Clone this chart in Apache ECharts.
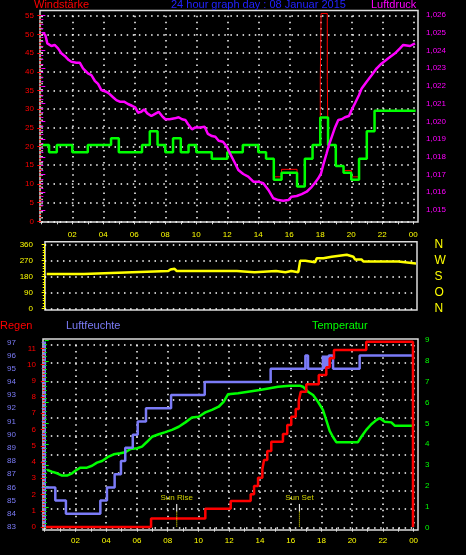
<!DOCTYPE html>
<html><head><meta charset="utf-8">
<script src="https://cdn.jsdelivr.net/npm/echarts@6/dist/echarts.min.js"></script>
<style>html,body{margin:0;padding:0;background:#000;}#c{width:466px;height:555px;}</style>
</head><body><div id="c"></div>
<script>
// ---------- DATA ----------
// Top panel: wind (km/h), gusts, pressure (hPa) vs hour of day
const windTimes  = [0.1, 0.5, 1.0, 2.0, 3.0, 4.5, 5.0, 6.5, 7.0, 7.5, 8.0, 8.5, 9.0, 9.5, 10.0, 11.0, 12.0, 13.0, 14.0, 14.5, 15.0, 15.5, 16.5, 17.0, 17.5, 18.0, 18.5, 19.0, 19.5, 20.0, 20.5, 21.0, 21.5, 24.15];
const windValues = [20.4, 18.5, 20.4, 18.5, 20.4, 22.2, 18.5, 20.4, 24.1, 20.4, 18.5, 22.2, 18.5, 20.4, 18.5, 16.7, 18.5, 20.4, 18.5, 16.7, 11.1, 13.0, 9.3, 16.7, 20.4, 27.8, 20.4, 14.8, 13.0, 11.1, 16.7, 24.1, 29.6, 29.6];
const gustTimes  = [0.1, 0.5, 1.0, 2.0, 3.0, 4.5, 5.0, 6.5, 7.0, 7.5, 8.0, 8.5, 9.0, 9.5, 10.0, 11.0, 12.0, 13.0, 14.0, 14.5, 15.0, 15.5, 16.5, 17.0, 17.5, 18.0, 18.05, 18.45, 18.5, 19.0, 19.5, 20.0, 20.5, 21.0, 21.5, 24.15];
const gustValues = [20.4, 18.5, 20.4, 18.5, 20.4, 22.2, 18.5, 20.4, 24.1, 20.4, 18.5, 22.2, 18.5, 20.4, 18.5, 16.7, 18.5, 20.4, 18.5, 16.7, 11.9, 13.9, 9.3, 16.7, 20.4, 38.0, 55.6, 38.0, 20.4, 14.8, 13.6, 11.9, 16.7, 24.1, 29.6, 29.6];
const pressTimes  = [0.11, 0.26, 0.39, 0.65, 0.86, 1.08, 1.29, 1.51, 1.77, 1.94, 2.26, 2.48, 2.69, 3.01, 3.23, 3.45, 3.66, 3.87, 4.19, 4.41, 4.63, 4.84, 5.06, 5.34, 5.59, 5.85, 6.06, 6.24, 6.45, 6.63, 6.84, 7.10, 7.31, 7.57, 7.79, 8.00, 8.28, 8.61, 8.86, 9.08, 9.29, 9.46, 9.72, 9.94, 10.22, 10.54, 10.75, 11.01, 11.23, 11.44, 11.72, 11.95, 12.17, 12.45, 12.71, 13.03, 13.35, 13.68, 14.00, 14.32, 14.65, 14.97, 15.29, 15.61, 15.94, 16.15, 16.48, 16.80, 17.12, 17.45, 17.66, 17.87, 18.05, 18.19, 18.41, 18.56, 18.74, 18.95, 19.16, 19.38, 19.59, 19.85, 20.02, 20.24, 20.50, 20.67, 20.99, 21.32, 21.64, 21.96, 22.39, 22.82, 23.14, 23.35, 23.79, 24.11];
const pressValues = [1025.00, 1024.87, 1024.40, 1024.25, 1024.31, 1024.12, 1023.84, 1023.69, 1023.46, 1023.36, 1023.31, 1023.31, 1022.99, 1022.71, 1022.61, 1022.29, 1022.11, 1021.77, 1021.67, 1021.54, 1021.36, 1021.20, 1021.11, 1021.11, 1020.98, 1020.88, 1020.79, 1020.49, 1020.54, 1020.68, 1020.45, 1020.30, 1020.41, 1020.54, 1020.30, 1020.12, 1020.12, 1020.17, 1020.23, 1020.12, 1020.08, 1019.85, 1019.55, 1019.66, 1019.66, 1019.70, 1019.29, 1019.17, 1019.13, 1018.91, 1018.85, 1018.60, 1018.20, 1017.72, 1017.26, 1017.03, 1016.88, 1016.60, 1016.60, 1016.51, 1016.13, 1015.66, 1015.56, 1015.52, 1015.56, 1015.75, 1015.79, 1015.90, 1016.03, 1016.31, 1016.54, 1016.79, 1017.07, 1017.54, 1018.20, 1018.67, 1019.13, 1019.66, 1020.08, 1020.12, 1020.23, 1020.30, 1020.64, 1021.02, 1021.49, 1021.86, 1022.24, 1022.61, 1022.99, 1023.27, 1023.56, 1023.84, 1024.12, 1024.31, 1024.25, 1024.40];
// Middle panel: wind direction (degrees)
const dirTimes  = [0.13, 2.55, 2.68, 5.70, 5.82, 8.04, 8.18, 8.30, 8.45, 8.58, 12.50, 12.60, 13.65, 13.75, 15.05, 15.15, 15.66, 15.74, 16.04, 16.12, 16.50, 16.62, 16.96, 17.05, 17.59, 17.70, 18.13, 18.24, 18.67, 18.78, 19.65, 19.75, 20.08, 20.19, 20.62, 20.73, 23.00, 23.12, 24.16];
const dirValues = [195, 195, 205, 205, 212, 212, 220, 224, 224, 212, 212, 205, 205, 212, 212, 205, 205, 212, 212, 205, 205, 270, 270, 261, 261, 284, 284, 292, 292, 303, 303, 292, 292, 277, 277, 265, 265, 254, 254];
const dirAxisLabels = {0: 'N', 90: 'O', 180: 'S', 270: 'W', 360: 'N'};
// Bottom panel: rain (mm), humidity (%), temperature (°C)
const rainTimes  = [0.08, 6.92, 10.45, 12.10, 13.40, 13.62, 13.88, 14.16, 14.27, 14.48, 14.74, 15.50, 15.78, 16.04, 16.33, 16.53, 16.66, 17.02, 17.83, 18.32, 18.54, 18.82, 20.92, 23.96, 24.0];
const rainValues = [0, 0.53, 1.12, 1.60, 2.01, 2.52, 3.03, 3.55, 4.12, 4.68, 5.25, 5.72, 6.28, 6.79, 7.26, 7.77, 8.33, 8.78, 9.35, 9.83, 10.38, 10.89, 11.40, 0, 0];
const humTimes  = [0.085, 0.69, 1.38, 3.62, 4.05, 4.55, 4.96, 5.24, 5.73, 6.05, 6.59, 8.22, 10.41, 14.70, 16.96, 17.13, 18.10, 18.15, 18.20, 18.25, 18.30, 18.35, 18.40, 18.44, 18.48, 18.76, 20.49, 24.0];
const humValues = [86, 85, 84, 85, 86, 87, 88, 89, 90, 91, 92, 93, 94, 95, 96, 95, 96, 95, 96, 95, 96, 95, 96, 95, 96, 95, 96, 96];
const tempTimes  = [0.15, 0.47, 0.80, 1.13, 1.45, 1.78, 1.99, 2.32, 2.75, 3.08, 3.40, 3.73, 4.16, 4.49, 4.92, 5.24, 5.57, 6.01, 6.33, 6.66, 6.98, 7.42, 7.85, 8.28, 8.72, 9.15, 9.58, 10.02, 10.45, 10.88, 11.32, 11.65, 11.93, 12.58, 13.23, 13.99, 14.64, 15.18, 15.94, 16.59, 16.80, 17.13, 17.46, 17.78, 18.10, 18.32, 18.54, 18.75, 18.97, 20.38, 20.60, 20.92, 21.25, 21.57, 21.79, 22.12, 22.55, 22.77, 24.0];
const tempValues = [2.77, 2.69, 2.61, 2.50, 2.50, 2.61, 2.73, 2.88, 2.88, 2.97, 3.12, 3.20, 3.41, 3.52, 3.57, 3.62, 3.77, 3.81, 3.89, 4.12, 4.36, 4.48, 4.58, 4.69, 4.84, 5.05, 5.28, 5.32, 5.53, 5.65, 5.80, 6.04, 6.40, 6.45, 6.52, 6.60, 6.69, 6.76, 6.81, 6.81, 6.76, 6.52, 6.36, 6.04, 5.65, 5.16, 4.64, 4.36, 4.10, 4.10, 4.36, 4.69, 4.96, 5.16, 5.25, 5.08, 5.05, 4.89, 4.89];
const sunTimes  = [8.59, 16.57];
const sunLabels = ['Sun Rise', 'Sun Set'];

// ---------- CHART ----------
const FONT = 'Liberation Sans';
const pairs = (t, v) => t.map((x, i) => [x, v[i]]);
const dotted = {color: '#ffffff', width: 1.5, type: [1.5, 4.6]};
const hourFmt = v => (v > 0 && v <= 24 && v % 2 === 0) ? String(v % 24).padStart(2, '0') : '';
const noAxis = (gi) => ({gridIndex: gi, type: 'value', show: false, min: 0, max: 1});

const frame = (l, t, w, h) => ({left: l, top: t, width: w, height: h, show: true, borderColor: '#dcdcdc', borderWidth: 1.5, backgroundColor: 'transparent', outerBoundsMode: 'none', containLabel: false});
const g = (l, t, w, h) => ({left: l, top: t, width: w, height: h, outerBoundsMode: 'none', containLabel: false});

const grids = [
  frame(40, 10.5, 378, 211.5),          // 0 top frame
  g(41.3, 15.7, 372, 205.6),            // 1 wind
  g(41.3, 15, 372, 195),                // 2 pressure
  frame(45, 241.7, 372, 68.3),          // 3 mid frame
  g(44.7, 244.7, 368.9, 63.8),          // 4 direction
  frame(43, 339, 375, 191),             // 5 bottom frame
  g(44.7, 340, 368.9, 187.7),           // 6 temperature
  g(44.7, 342.3, 368.9, 184.7),         // 7 humidity
  g(44.7, 348.3, 368.9, 178.7),         // 8 rain
  g(44.7, 345, 368.9, 182.3)            // 9 bottom dotted grid
];

const hidX = gi => ({gridIndex: gi, type: 'value', min: 0, max: 24, interval: 2, axisLine: {show: false}, axisTick: {show: false}, axisLabel: {show: false}, splitLine: {show: false}});

const xAxes = [
  noAxis(0),
  {gridIndex: 1, type: 'value', min: 0, max: 24, interval: 2, position: 'bottom', offset: 0.7,
   axisLine: {show: false},
   axisTick: {show: true, length: 3, lineStyle: {color: '#dcdcdc', width: 1}},
   minorTick: {show: true, splitNumber: 2, length: 3, lineStyle: {color: '#dcdcdc', width: 1}},
   axisLabel: {color: '#ffff00', fontSize: 8, fontFamily: FONT, margin: 9, formatter: hourFmt, showMinLabel: true, showMaxLabel: true},
   splitLine: {show: true, lineStyle: dotted}},
  hidX(2),
  noAxis(3),
  hidX(4),
  noAxis(5),
  {gridIndex: 6, type: 'value', min: 0, max: 24, interval: 2, position: 'bottom', offset: 2.3,
   axisLine: {show: false},
   axisTick: {show: true, length: 4, lineStyle: {color: '#dcdcdc', width: 1}},
   minorTick: {show: true, splitNumber: 2, length: 4, lineStyle: {color: '#dcdcdc', width: 1}},
   axisLabel: {color: '#ffff00', fontSize: 8, fontFamily: FONT, margin: 7, formatter: hourFmt},
   splitLine: {show: false}},
  hidX(7),
  hidX(8),
  Object.assign(hidX(9), {splitLine: {show: true, lineStyle: dotted}})
];

const yAxes = [
  noAxis(0),
  {gridIndex: 1, type: 'value', min: 0, max: 55, interval: 5, position: 'left', offset: 1.3,
   axisLine: {show: false},
   axisTick: {show: true, length: 4, lineStyle: {color: '#ff0000'}},
   minorTick: {show: true, splitNumber: 5, length: 2, lineStyle: {color: '#ff0000'}},
   axisLabel: {color: '#ff0000', fontSize: 8, fontFamily: FONT, margin: 6},
   splitLine: {show: true, lineStyle: dotted}},
  {gridIndex: 2, type: 'value', min: 1015, max: 1026, interval: 1, position: 'right', offset: 4.7,
   axisLine: {show: false},
   axisTick: {show: true, length: 4, lineStyle: {color: '#ff00ff'}},
   minorTick: {show: true, splitNumber: 4, length: 2, lineStyle: {color: '#ff00ff'}},
   axisLabel: {color: '#ff00ff', fontSize: 8, fontFamily: FONT, margin: 8},
   splitLine: {show: false}},
  noAxis(3),
  {gridIndex: 4, type: 'value', min: 0, max: 360, interval: 90, position: 'left', offset: 2.7,
   axisLine: {show: true, lineStyle: {color: '#ffff00', width: 1}},
   axisTick: {show: true, length: 3, lineStyle: {color: '#ffff00'}},
   minorTick: {show: true, splitNumber: 6, length: 2, lineStyle: {color: '#ffff00'}},
   axisLabel: {color: '#ffff00', fontSize: 8, fontFamily: FONT, margin: 9},
   splitLine: {show: true, lineStyle: dotted}},
  noAxis(5),
  {gridIndex: 6, type: 'value', min: 0, max: 9, interval: 1, position: 'right', offset: 4.4,
   axisLine: {show: false},
   axisTick: {show: true, length: 4, lineStyle: {color: '#00ff00'}},
   minorTick: {show: true, splitNumber: 5, length: 2, lineStyle: {color: '#00ff00'}},
   axisLabel: {color: '#00ff00', fontSize: 8, fontFamily: FONT, margin: 7},
   splitLine: {show: false}},
  {gridIndex: 7, type: 'value', min: 83, max: 97, interval: 1, position: 'left', offset: 22.7,
   axisLine: {show: true, lineStyle: {color: '#7b7bf7', width: 2}},
   axisTick: {show: true, length: 3, lineStyle: {color: '#7b7bf7'}},
   minorTick: {show: true, splitNumber: 5, length: 2, lineStyle: {color: '#7b7bf7'}},
   axisLabel: {color: '#7b7bf7', fontSize: 8, fontFamily: FONT, margin: 6},
   splitLine: {show: false}},
  {gridIndex: 8, type: 'value', min: 0, max: 11, interval: 1, position: 'left', offset: 1.7,
   axisLine: {show: false},
   axisTick: {show: true, length: 4, lineStyle: {color: '#ff0000'}},
   minorTick: {show: true, splitNumber: 5, length: 2, lineStyle: {color: '#ff0000'}},
   axisLabel: {color: '#ff0000', fontSize: 8, fontFamily: FONT, margin: 7},
   splitLine: {show: false}},
  {gridIndex: 9, type: 'value', min: 0, max: 10, interval: 1, axisLine: {show: false}, axisTick: {show: false}, axisLabel: {show: false},
   splitLine: {show: true, lineStyle: dotted}},
  {gridIndex: 4, type: 'value', min: 0, max: 360, interval: 90, position: 'right', offset: 0,
   axisLine: {show: false}, axisTick: {show: false}, splitLine: {show: false},
   axisLabel: {color: '#ffff00', fontSize: 12, fontFamily: FONT, margin: 21, formatter: v => dirAxisLabels[v] || ''}}
];

const line = (name, xi, yi, data, color, width, z, step) => ({
  name, type: 'line', xAxisIndex: xi, yAxisIndex: yi, data, step: step || false, symbol: 'none', clip: false, z,
  lineStyle: {color, width}, itemStyle: {color}, animation: false
});

const series = [
  line('Böen', 1, 1, pairs(gustTimes, gustValues), '#ff0000', 1, 2, 'end'),
  line('Windstärke', 1, 1, pairs(windTimes, windValues), '#00ff00', 2.5, 3, 'end'),
  line('Luftdruck', 2, 2, pairs(pressTimes, pressValues), '#ff00ff', 2.5, 4),
  line('Windrichtung', 4, 4, pairs(dirTimes, dirValues), '#ffff00', 2.5, 3),
  line('Temperatur', 6, 6, pairs(tempTimes, tempValues), '#00ff00', 2.5, 2),
  line('Luftfeuchte', 7, 7, pairs(humTimes, humValues), '#7b7bf7', 2.5, 3, 'end'),
  line('Regen', 8, 8, pairs(rainTimes, rainValues), '#ff0000', 2.5, 4, 'end')
];
// sun rise / sun set markers (in the 0..10 helper scale of grid 9)
sunTimes.forEach((t, i) => {
  series.push(line('sunTick' + i, 9, 9, [[t, 1.28], [t, 0.86]], '#ffffff', 1, 5));
  const s = line('sunDot' + i, 9, 9, [[t, 0.86], [t, 0]], '#ffff00', 1, 5);
  s.lineStyle.type = [1, 1];
  series.push(s);
  series.push({type: 'scatter', xAxisIndex: 9, yAxisIndex: 9, symbolSize: 0, z: 6, silent: true,
    data: [{value: [t, 1.62], name: sunLabels[i]}],
    label: {show: true, position: 'inside', formatter: '{b}', color: '#ffff00', fontSize: 8, fontFamily: FONT}});
});

const tt = (text, left, top, color) => ({text, left, top, padding: 0, textStyle: {color, fontSize: 11, fontWeight: 'normal', fontFamily: FONT}});

const option = {
  backgroundColor: '#000000',
  animation: false,
  title: [
    tt('Windstärke', 34, -1, '#ff0000'),
    tt('24 hour graph day : 08 Januar 2015', 171, -1, '#2222ff'),
    tt('Luftdruck', 371, -1, '#ff00ff'),
    tt('Regen', 0, 320, '#ff0000'),
    tt('Luftfeuchte', 66, 320, '#7b7bf7'),
    tt('Temperatur', 312, 320, '#00ff00')
  ],
  grid: grids,
  xAxis: xAxes,
  yAxis: yAxes,
  series
};
const chart = echarts.init(document.getElementById('c'), null, {renderer: 'canvas'});
chart.setOption(option);
</script>
</body></html>
